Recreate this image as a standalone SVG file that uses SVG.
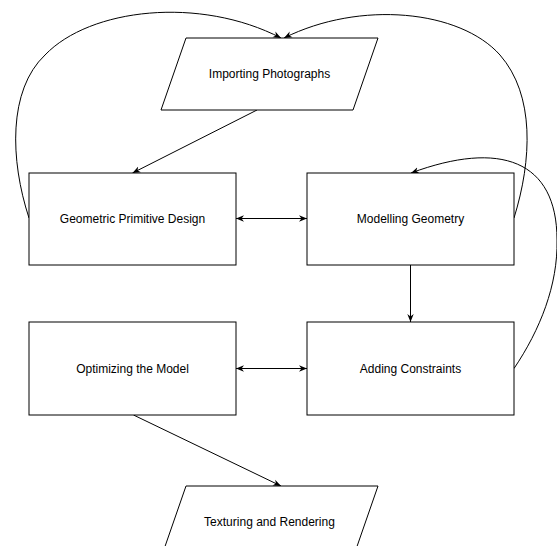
<svg xmlns="http://www.w3.org/2000/svg" width="557" height="546" viewBox="0 0 557 546">
<style>
.shape{fill:#ffffff;stroke:#000000;stroke-width:1}
.lbl{font-family:"Liberation Sans",Arial,sans-serif;font-size:12px;fill:#000000;text-anchor:middle;dominant-baseline:central}
.edge{fill:none;stroke:#000000;stroke-width:1}
</style>
<defs>
<marker id="ah" viewBox="0 0 10 10" refX="10" refY="5" markerWidth="8" markerHeight="8" markerUnits="userSpaceOnUse" orient="auto-start-reverse">
<path d="M0,1 L10,5 L0,9 L3,5 z" fill="#000000"/>
</marker>
</defs>
<rect width="557" height="546" fill="#ffffff"/>
<g id="connectors">
<path class="edge" d="M257,110 L132.5,173" marker-end="url(#ah)"/>
<path class="edge" d="M236,218.5 L307,218.5" marker-start="url(#ah)" marker-end="url(#ah)"/>
<path class="edge" d="M410.5,265 L410.5,322" marker-end="url(#ah)"/>
<path class="edge" d="M236,368.5 L307,368.5" marker-start="url(#ah)" marker-end="url(#ah)"/>
<path class="edge" d="M133.5,415 L281,486" marker-end="url(#ah)"/>
<path class="edge" d="M29,218 C10,160 8,90 45,55 C90,8 200,-4 281,38" marker-end="url(#ah)"/>
<path class="edge" d="M514,218 C532,160 535,95 500,55 C460,10 360,0 284,38" marker-end="url(#ah)"/>
<path class="edge" d="M514,368.5 C540,330 558,285 557,240 C557,160 500,140 411,173" marker-end="url(#ah)"/>
</g>
<g id="importing-photographs">
<polygon class="shape" points="186,38 378,38 353,110 161,110"/>
<text class="lbl" x="269.5" y="74">Importing Photographs</text>
</g>
<g id="geometric-primitive-design">
<rect class="shape" x="29" y="173" width="207" height="92"/>
<text class="lbl" x="132.5" y="218.5">Geometric Primitive Design</text>
</g>
<g id="modelling-geometry">
<rect class="shape" x="307" y="173" width="207" height="92"/>
<text class="lbl" x="410.5" y="218.5">Modelling Geometry</text>
</g>
<g id="optimizing-the-model">
<rect class="shape" x="29" y="322" width="207" height="93"/>
<text class="lbl" x="132.5" y="368.5">Optimizing the Model</text>
</g>
<g id="adding-constraints">
<rect class="shape" x="307" y="322" width="207" height="93"/>
<text class="lbl" x="410.5" y="368.5">Adding Constraints</text>
</g>
<g id="texturing-and-rendering">
<polygon class="shape" points="186,486 378,486 353,558 161,558"/>
<text class="lbl" x="269.5" y="522">Texturing and Rendering</text>
</g>
</svg>
